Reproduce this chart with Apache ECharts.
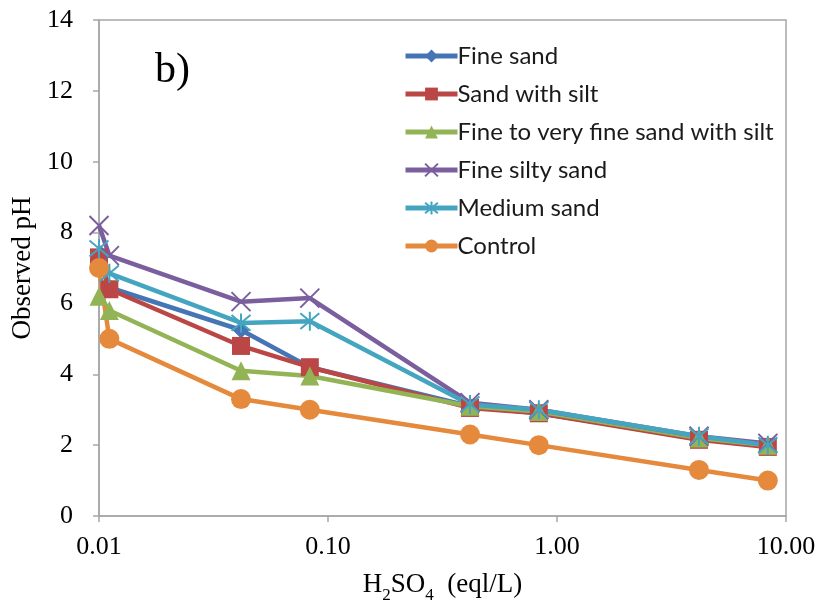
<!DOCTYPE html>
<html>
<head>
<meta charset="utf-8">
<script src="https://cdn.jsdelivr.net/npm/echarts@6/dist/echarts.min.js"></script>
<style>html,body{margin:0;padding:0;background:#fff;}#c{width:822px;height:602px;}</style>
</head>
<body>
<div id="c"></div>
<script>
// ---- data ----
var xValues = [0.0100, 0.0111, 0.0417, 0.0833, 0.417, 0.833, 4.17, 8.33];
var seriesNames = ['Fine sand', 'Sand with silt', 'Fine to very fine sand with silt', 'Fine silty sand', 'Medium sand', 'Control'];
var fineSand = [7.3, 6.45, 5.25, 4.2, 3.1, 2.9, 2.2, 2.0];
var sandWithSilt = [7.3, 6.4, 4.8, 4.2, 3.05, 2.9, 2.15, 1.95];
var fineToVeryFine = [6.2, 5.8, 4.1, 3.95, 3.1, 2.95, 2.2, 2.0];
var fineSiltySand = [8.2, 7.35, 6.05, 6.15, 3.2, 3.0, 2.25, 2.05];
var mediumSand = [7.55, 6.85, 5.45, 5.5, 3.15, 3.0, 2.25, 2.0];
var control = [7.0, 5.0, 3.3, 3.0, 2.3, 2.0, 1.3, 1.0];
var xTickLabels = ['0.01', '0.10', '1.00', '10.00'];
var yTickLabels = ['0', '2', '4', '6', '8', '10', '12', '14'];

var colors = ['#4675B5', '#BA4745', '#93B455', '#7A5E9E', '#44A5C0', '#E5893D'];
var xPath = 'path://M0,0L10,10M10,0L0,10';
var starPath = 'path://M0,0L10,10M10,0L0,10M5,-1L5,11';

function pairs(ys) { return ys.map(function (y, i) { return [xValues[i], y]; }); }

var allData = [fineSand, sandWithSilt, fineToVeryFine, fineSiltySand, mediumSand, control];
var symbols = ['diamond', 'rect', 'triangle', xPath, starPath, 'circle'];
var symSizes = [17, 18, 19, 19, 19, 20];

var series = allData.map(function (d, i) {
  var stroke = (i === 3 || i === 4);
  return {
    name: seriesNames[i],
    type: 'line',
    data: pairs(d),
    symbol: symbols[i],
    symbolSize: symSizes[i],
    showAllSymbol: true,
    lineStyle: { color: colors[i], width: 4.5 },
    itemStyle: stroke ? { color: colors[i], borderColor: colors[i], borderWidth: 2 } : { color: colors[i], borderWidth: 0 },
    emphasis: { disabled: true },
    animation: false
  };
});

var chart = echarts.init(document.getElementById('c'), null, { renderer: 'canvas' });
chart.setOption({
  backgroundColor: '#fff',
  animation: false,
  grid: { left: 99, right: 36, top: 20, bottom: 86, show: true, borderColor: '#a6a6a6', borderWidth: 1.5, outerBoundsMode: 'none', containLabel: false },
  legend: {
    orient: 'vertical',
    left: 398, top: 38,
    itemWidth: 52, itemHeight: 16, itemGap: 12,
    data: seriesNames,
    lineStyle: { width: 5 },
    textStyle: { fontFamily: 'Lato', fontSize: 24, color: '#1a1a1a', lineHeight: 26, padding: [0, 0, 0, -5] }
  },
  xAxis: {
    type: 'log', logBase: 10, min: 0.01, max: 10,
    axisLine: { show: true, lineStyle: { color: '#a6a6a6', width: 1.5 } },
    axisTick: { show: true, inside: false, length: 6, lineStyle: { color: '#a6a6a6', width: 1.5 } },
    minorTick: { show: false },
    splitLine: { show: false },
    axisLabel: {
      margin: 18, fontFamily: 'Liberation Serif', fontSize: 26, color: '#000',
      formatter: function (v) { return xTickLabels[Math.round(Math.log10(v)) + 2]; }
    },
    name: '{a|H}{s|2}{a|SO}{s|4}{a|  (eql/L)}',
    nameLocation: 'middle', nameGap: 50,
    nameTextStyle: {
      rich: {
        a: { fontFamily: 'Liberation Serif', fontSize: 27, color: '#000', lineHeight: 32, verticalAlign: 'bottom' },
        s: { fontFamily: 'Liberation Serif', fontSize: 17, color: '#000', lineHeight: 32, verticalAlign: 'bottom', padding: [0, 0, -6, 0] }
      }
    }
  },
  yAxis: {
    type: 'value', min: 0, max: 14, interval: 2,
    axisLine: { show: true, lineStyle: { color: '#a6a6a6', width: 1.5 } },
    axisTick: { show: true, inside: false, length: 6, lineStyle: { color: '#a6a6a6', width: 1.5 } },
    splitLine: { show: false },
    axisLabel: {
      margin: 26, fontFamily: 'Liberation Serif', fontSize: 26, color: '#000',
      formatter: function (v, i) { return yTickLabels[i]; }
    },
    name: 'Observed pH', nameLocation: 'middle', nameGap: 62, nameRotate: 90,
    nameTextStyle: { fontFamily: 'Liberation Serif', fontSize: 27, color: '#000' }
  },
  graphic: [{
    type: 'text', left: 155, top: 50,
    style: { text: 'b)', font: '42px "Liberation Serif"', fill: '#000' }
  }],
  series: series
});
</script>
</body>
</html>
